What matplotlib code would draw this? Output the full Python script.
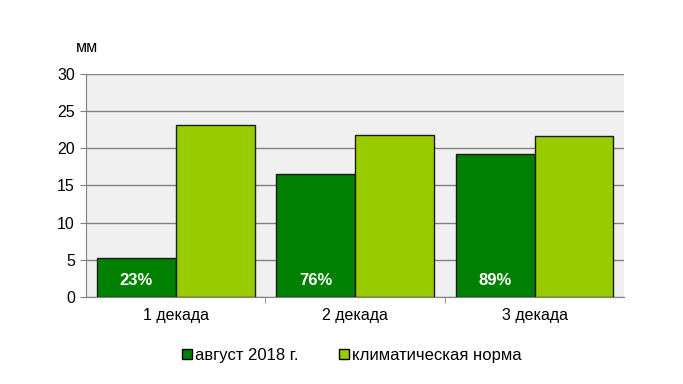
import matplotlib.pyplot as plt
import numpy as np
from matplotlib.patches import Patch

plt.rcParams['font.family'] = ['Liberation Sans', 'DejaVu Sans']

categories = ['1 декада', '2 декада', '3 декада']
august_2018 = [5.2, 16.5, 19.2]
climate_norm = [23.1, 21.8, 21.6]
percent_labels = ['23%', '76%', '89%']

dark = '#008000'
light = '#99CC00'

fig = plt.figure(figsize=(6.83, 3.84), dpi=100)
ax = fig.add_axes([0.126, 0.227, 0.788, 0.580])
ax.set_facecolor('#F0F0F0')

x = np.arange(len(categories))
w = 0.44
ax.bar(x - w / 2, august_2018, w, color=dark, edgecolor='#1a1a1a', linewidth=1, zorder=3)
ax.bar(x + w / 2, climate_norm, w, color=light, edgecolor='#1a1a1a', linewidth=1, zorder=3)

for xi, lab in zip(x, percent_labels):
    ax.text(xi - w / 2, 2.2, lab, color='white', fontweight='bold', fontsize=12,
            ha='center', va='center', zorder=4)

ax.set_xlim(-0.5, 2.5)
ax.set_ylim(0, 30)
ax.set_yticks(range(0, 31, 5))
ax.yaxis.grid(True, color='#808080', linewidth=1, zorder=0)
ax.set_axisbelow(True)

ax.set_xticks(x)
ax.set_xticklabels(categories)
ax.set_xticks([0.5, 1.5], minor=True)
ax.tick_params(axis='x', which='major', length=0, pad=8, labelsize=11.5)
ax.tick_params(axis='x', which='minor', length=4, color='#808080')
ax.tick_params(axis='y', length=4, color='#808080', labelsize=11.5, pad=4)

for s in ['top', 'right']:
    ax.spines[s].set_visible(False)
for s in ['left', 'bottom']:
    ax.spines[s].set_color('#808080')

fig.text(0.128, 0.877, 'мм', fontsize=11.5, ha='center', va='center')

handles = [Patch(facecolor=dark, edgecolor='black', label='август 2018 г.'),
           Patch(facecolor=light, edgecolor='black', label='климатическая норма')]
fig.legend(handles=handles, loc='center', bbox_to_anchor=(0.515, 0.075), ncol=2,
           frameon=False, fontsize=12, handlelength=0.6, handleheight=0.6,
           handletextpad=0.2, columnspacing=2.4)

fig.savefig('out.png', dpi=100)
